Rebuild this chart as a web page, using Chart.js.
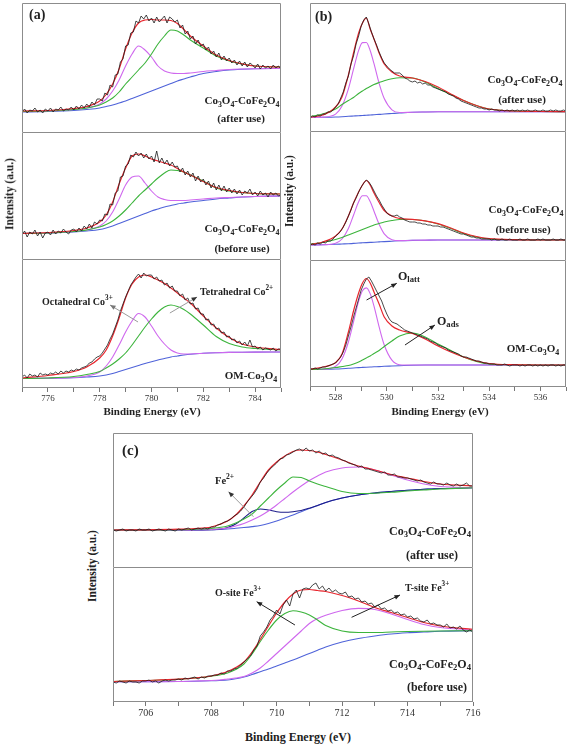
<!DOCTYPE html>
<html>
<head>
<meta charset="utf-8">
<script src="https://cdn.jsdelivr.net/npm/chart.js@4.4.1/dist/chart.umd.min.js"></script>
<style>
body { margin: 0; width: 567px; height: 744px; overflow: hidden; background: #fff; position: relative;
       font-family: "Liberation Serif", "Times New Roman", serif; }
canvas { position: absolute; }
.t { position: absolute; white-space: nowrap; font-weight: bold; color: #222; line-height: 1; }
.t sub { font-size: 72%; vertical-align: -0.3em; }
.t sup { font-size: 72%; vertical-align: 0.6em; }
</style>
</head>
<body>
<script>
// ---- energies (eV) of the fitted curves ----
const Ea = [775,776,777,777.5,778,778.25,778.5,778.75,779,779.25,779.5,779.75,780,780.25,780.5,780.75,781,781.25,781.5,782,782.5,783,783.5,784,785];
const Eb = [527,527.5,528,528.25,528.5,528.7,528.9,529.05,529.2,529.35,529.5,529.7,529.9,530.2,530.5,531,531.5,532,532.5,533,533.5,534,535,536,537];
const Ec = [705,706,707,707.5,708,708.25,708.5,708.75,709,709.25,709.5,709.75,710,710.25,710.5,710.75,711,711.25,711.5,712,712.5,713,713.5,714,714.5,715,716];

// ---- (a) Co 2p3/2 ----
const aTopBlue    = [20,20.5,21.5,22.5,24,25.5,27,29,31,33.5,36,38.5,41,43.5,46,48.5,51,53,55,58.5,60.5,62,62.8,63.3,63.5];
const aTopMagenta = [20.5,21,22.5,24,28,33,41,52,66,78,86,82,75,66,61,59,58.5,58.5,59,60.5,61.5,62.5,63,63.3,63.5];
const aTopGreen   = [20.5,21,22.5,24,27,30,34,40,48,55,62,69,78,88,96,102,101,97,92,84,76,71,68,66,65];
const aTopFit     = [21,21.5,23.5,25.5,31,37.5,48,63,83,99,109,112,112.5,112,112,111.5,108.5,102.5,96,86,77,71.5,68.2,66,65];
const aTopRaw = [20,23,19,22,21,24,20,22,19,23, 21,24,20,23,22,25,21,23,22,25, 22,26,23,27,24,28,25,30,27,33,
  33,31,39,37,47,45,57,58,70,73, 86,87,99,100,111,109,116,113,117,111, 114,109,115,110,113,116,109,115,113,110,
  112,104,107,98,101,93,96,88,92,86, 88,82,85,78,81,75,79,72,76,71, 74,69,72,67,71,66,70,65,69,67,
  64,68,63,67,64,66,63,67,64,66, 63];

const aMidBlue    = [25.5,26,27,28,29.5,31,33,35.5,38,40.5,43,45.5,48,50,52,53.5,55,56,57,58.5,60,61,62,62.5,63];
const aMidMagenta = [25.5,26,27.5,29,33,38,47,60,74,82,83,76,68,62,59.5,58.5,58.5,58.5,59,60,61,61.5,62,62.5,63];
const aMidGreen   = [25.5,26,27.5,29,32,34.5,38,43,49,56,63,69,75,81,86,89,88.5,87,84,78,71,68,66.5,65.5,65];
const aMidFit     = [25.5,26.5,28.5,31,37,44,57,75,91,103,105,103,100,98,96,94,90.5,87,84,77.5,71.5,68.5,66.5,65.5,65];
const aMidRaw = [24,28,22,27,25,29,23,27,21,26, 27,24,29,25,28,26,30,27,25,29, 30,27,31,28,33,30,35,31,37,35,
  39,38,45,44,55,54,66,68,82,83, 93,95,104,102,107,103,106,101,105,100, 103,97,108,96,101,95,99,93,97,92,
  93,87,91,84,88,82,86,78,83,77, 80,74,78,71,76,69,74,68,73,67, 71,66,70,65,69,64,68,66,70,64,
  67,63,68,64,66,62,67,64,66,63, 64];

const aBotBlue    = [9.5,9.8,10.3,11,12,13,14.5,16.5,18.5,20.5,22.5,24.5,26.3,28,29.5,31,32,33,33.8,34.8,35.3,35.6,35.8,35.9,36];
const aBotMagenta = [9.5,9.8,10.5,12,16,22,31,43,56,67,74.5,71,62,52,44,38,35,34,34,34.8,35.3,35.6,35.8,35.9,36];
const aBotGreen   = [9.5,10,11.5,13.5,16.5,20,24,29,35,43,52,61,69,76,81,83,81.5,78.5,74,63,51.5,44.5,41,39.5,38];
const aBotFit     = [10,12.5,16.5,21,30,38,52,70,90,104,111,113,111,108,104.5,100,95,90,85,72,60,50.5,44,41,38.5];
const aBotRaw = [11,13,10,14,12,13,11,15,13,14, 13,15,14,16,14,17,15,17,16,18, 17,19,18,20,21,22,25,26,29,31,
  32,35,39,43,49,54,61,68,77,84, 91,97,103,107,111,114,110,115,112,113, 113,109,111,107,108,103,105,100,102,97,
  97,92,94,88,90,84,85,79,80,74, 74,68,69,63,64,59,60,55,56,51, 52,48,49,45,47,43,46,42,48,41,
  42,39,41,38,40,39,38,40,37,39, 39];

// ---- (b) O 1s ----
const bTopBlue    = [13.5,13.7,14,14.3,14.7,15,15.3,15.5,15.8,16,16.3,16.6,17,17.5,18,18.7,19,19.2,19.3,19.3,19.3,19.3,19.3,19.3,19.3];
const bTopMagenta = [13.5,13.9,16.9,25,42.2,61.9,80.6,88.4,88.5,80.5,67.3,47.6,32.4,21.2,18.5,18.8,19,19.2,19.3,19.3,19.3,19.3,19.3,19.3,19.3];
const bTopGreen   = [14.5,17,22,26.5,30.5,33.5,37.5,40,42.5,44.5,46.5,48.5,50.3,52.3,53.3,53,49,42.5,36.5,30.5,25.5,22,20,19.5,19.3];
const bTopFit     = [13.7,16,24,34,56,78,98,108,113,102,92,78,67,59,55,53,49.5,44,37,30.5,25.5,22,20,19.5,19.4];
const bTopRaw = [13,15,14,16,15,17,17,19,19,21, 24,27,33,39,48,55,67,75,87,95, 105,111,114,107,99,92,86,79,73,68,
  65,62,60,58,58,58,56,53,52,50, 49,50,48,49,47,48,46,46,44,43, 42,41,40,39,37,36,35,33,32,30,
  29,28,27,26,25,24,23,23,22,22, 21,22,21,21,20,21,20,21,20,21, 20,21,20,21,20,21,20,20,21,20,
  20,21,20,20,21,20,21,20,20,21, 20];

const bMidBlue    = [15,15.3,15.7,16,16.3,16.6,17,17.2,17.4,17.6,17.8,18.1,18.4,18.8,19.2,19.6,19.8,20,20,20,20,20,20,20,20];
const bMidMagenta = [15,15.3,16.8,21,31.5,44.8,58.3,64.2,64.2,58.4,48.8,35.7,26.2,20.3,19.4,19.7,19.9,20,20,20,20,20,20,20,20];
const bMidGreen   = [16,17.5,20.5,22.5,25,27,29,30.5,32,33.5,35,36.5,38,39.5,40.5,40.5,39,36,31.5,26.5,23,21,20.2,20,20];
const bMidFit     = [15.5,18,24,31,44,57,68,75,79.5,75,67,57.5,49.5,44,41.5,40.7,39.2,36.3,32,27,23.5,21.5,20.3,20,20];
const bMidRaw = [15,16,15,17,16,18,17,19,19,21, 24,26,29,33,38,44,50,57,62,68, 73,77,80,78,74,69,64,60,55,51,
  47,45,44,44,45,43,42,40,39,38, 38,38,37,37,36,36,35,35,34,34, 34,33,33,32,31,30,29,28,27,26,
  26,25,24,23,23,22,22,21,21,21, 21,20,21,20,20,21,20,20,21,20, 20,20,21,20,20,21,20,20,20,21,
  20,21,20,20,20,21,20,20,21,20, 20];

const bBotBlue    = [17.5,17.7,18,18.3,18.7,19,19.4,19.6,19.8,20,20.2,20.4,20.7,21,21.3,21.8,22,22,22,22,22,22,22,22,22];
const bBotMagenta = [17.5,17.7,20.7,28.1,45,65.1,85.8,96.3,99.1,93.4,80.9,60.1,42,26.8,22.3,22,22,22,22,22,22,22,22,22,22];
const bBotGreen   = [17.5,18,19.5,20.5,21.5,23,25,27,29,31,33.5,36.5,40.5,46,51,54,50,43,36.5,30,25.5,23,22.2,22,22];
const bBotFit     = [17.8,20,24.5,33,55,76,94,104,108.5,104,95,83,70,61,57,53.5,48,41,35,30,26,23.5,22.3,22,22];
const bBotRaw = [18,18,19,18,19,20,20,21,22,23, 24,27,30,35,42,51,60,70,79,88, 97,103,108,110,106,101,96,91,86,79,
  73,68,65,64,63,61,59,57,56,55, 54,53,52,51,50,49,48,46,45,44, 42,41,40,39,37,36,35,34,33,31,
  30,30,29,28,27,26,26,25,24,24, 23,23,23,22,22,22,23,22,21,22, 22,22,21,22,21,22,22,21,22,21,
  22,21,22,21,22,22,21,22,21,22, 22];

// ---- (c) Fe 2p3/2 ----
const cTopBlue    = [37,37,37,37.1,37.3,37.6,38,38.7,39.5,40.4,41.5,43.5,46,49,52,55.3,58.5,61.5,64.5,69,72,74,75.5,76.8,77.7,78.5,79.3];
const cTopFe2     = [37,37,37,37.1,37.3,37.8,39.5,43,49,55.5,58,57,55.3,54.7,55.3,56.5,58.8,61.6,64.6,69,72,74,75.5,76.8,77.7,78.5,79.3];
const cTopGreen   = [37,37,37.3,37.8,38.5,39.5,41,44,48,53,61,69,77,84,90,89.5,86,83,80.5,75.5,73.5,73.8,74.7,76,77,78,79.3];
const cTopMagenta = [37,37,37,37.2,37.5,38,39,41,43.5,47,51,56,62,68.5,75,81,86.5,91,95,99,100,97,92,87,83,80.5,79.3];
const cTopFit     = [37,37.2,37.8,38.5,40,42.5,46,52,61,72,85,97,105,111,115.5,117,116.5,115,112.5,107,101,97,92.5,89,85.5,83,81];
const cTopRaw = [37,36,37,38,36,37,37,36,38,37, 37,38,36,37,38,37,36,38,37,36, 38,37,38,39,37,38,39,38,39,38,
  40,40,42,43,45,46,48,51,53,56, 60,65,69,73,78,85,89,94,98,101, 104,108,109,112,113,115,117,118,116,119,
  116,117,114,116,113,114,111,112,110,109, 107,106,104,103,102,100,101,98,98,97, 96,95,94,95,92,92,93,90,90,89,
  89,88,87,86,87,85,84,83,85,83, 83,82,84,82,81,83,81,82,84,81, 81];

const cBotBlue    = [20.3,20.3,20.5,20.8,21.2,21.5,22,23.2,25,27.5,30.3,33,36,39,42,45.2,48.5,51.8,55,60,63.5,66,68,69.2,70,70.7,71.3];
const cBotGreen   = [20.5,21.5,22.7,24,25.8,27,29,32.5,38,48,60.5,72,82,88.5,91.3,90,87,82,76.5,71,69.5,69.5,70,70.5,70.8,71,71.3];
const cBotMagenta = [20.3,20.3,20.5,21,21.5,22,23,24,25.5,29,34,41,48.5,56,63.5,71,78.5,83.5,86.8,91.5,93.6,92.5,88,82.5,77.5,74.5,72];
const cBotFit     = [20.5,21.5,22.8,24,26,28,30.5,34.5,40,50,62.5,76,89,100,108,112,112.5,111.5,110.5,106.5,101,94.5,89.5,84.5,79.5,76,72.7];
const cBotRaw = [20,19,21,20,19,21,20,20,19,21, 21,22,20,21,19,21,22,21,22,22, 23,22,24,23,24,25,23,25,24,26,
  26,27,27,29,28,31,31,33,34,37, 40,43,46,52,56,66,70,75,82,86, 92,88,97,102,96,108,112,104,113,114,
  113,117,119,113,116,111,114,110,112,109, 108,110,105,106,103,104,100,101,98,99, 95,97,93,94,91,92,89,90,87,88,
  85,86,83,84,81,80,82,78,79,77, 77,75,78,74,75,73,76,72,70,72, 70];

// ---- drawing ----
const C = { raw: "#1a1a1a", fit: "#e8262e", green: "#3cb43c", magenta: "#cf68ee", blue: "#4f63d9", navy: "#1c1c8a" };
const PAD = 12;

function pts(E, vals) { return vals.map((v, i) => ({ x: E[i], y: v })); }
function rawPts(start, vals) { return vals.map((v, i) => ({ x: +(start + i * 0.1).toFixed(1), y: v })); }
function curve(data, color, w) {
    return { data: data, borderColor: color, borderWidth: w, pointRadius: 0, fill: false, cubicInterpolationMode: "monotone" };
}

const framePlugin = {
    id: "frame",
    afterDraw(chart, args, opts) {
        const a = chart.chartArea, ctx = chart.ctx;
        ctx.save();
        ctx.strokeStyle = "#8c8c8c";
        ctx.lineWidth = 1;
        ctx.beginPath();
        ctx.moveTo(a.left + 0.5, a.bottom);
        ctx.lineTo(a.left + 0.5, a.top + 0.5);
        ctx.lineTo(a.right - 0.5, a.top + 0.5);
        ctx.lineTo(a.right - 0.5, a.bottom);
        if (opts.bottom) { ctx.moveTo(a.left, a.bottom - 0.5); ctx.lineTo(a.right, a.bottom - 0.5); }
        ctx.stroke();
        // arrows, given in data units
        (opts.arrows || []).forEach(ar => {
            const x0 = chart.scales.x.getPixelForValue(ar.from[0]), y0 = chart.scales.y.getPixelForValue(ar.from[1]);
            const x1 = chart.scales.x.getPixelForValue(ar.to[0]), y1 = chart.scales.y.getPixelForValue(ar.to[1]);
            ctx.strokeStyle = ar.color; ctx.fillStyle = ar.head;
            ctx.beginPath(); ctx.moveTo(x0, y0); ctx.lineTo(x1, y1); ctx.stroke();
            const ang = Math.atan2(y1 - y0, x1 - x0), L = 6;
            ctx.beginPath();
            ctx.moveTo(x1, y1);
            ctx.lineTo(x1 - L * Math.cos(ang - 0.4), y1 - L * Math.sin(ang - 0.4));
            ctx.lineTo(x1 - L * Math.cos(ang + 0.4), y1 - L * Math.sin(ang + 0.4));
            ctx.closePath(); ctx.fill();
        });
        ctx.restore();
    }
};

function panel(frame, xr, sets, opts) {
    const [x0, x1, y0, y1] = frame;
    const axisH = opts.axis ? 16 : 0;
    const cv = document.createElement("canvas");
    cv.width = x1 - x0 + 2 * PAD;
    cv.height = y1 - y0 + axisH;
    cv.style.left = (x0 - PAD) + "px";
    cv.style.top = y0 + "px";
    document.body.appendChild(cv);
    new Chart(cv.getContext("2d"), {
        type: "line",
        data: { datasets: sets },
        options: {
            responsive: false,
            animation: false,
            events: [],
            layout: { padding: { left: PAD, right: PAD, top: 0, bottom: 0 } },
            plugins: { legend: { display: false }, tooltip: { enabled: false },
                       frame: { bottom: !!opts.axis, arrows: opts.arrows || [] } },
            scales: {
                x: {
                    type: "linear", min: xr[0], max: xr[1], display: !!opts.axis,
                    afterFit: s => { s.height = axisH; },
                    border: { display: false },
                    grid: { drawOnChartArea: false, drawTicks: true, tickLength: 4, color: "#777" },
                    ticks: { stepSize: 1, autoSkip: false, maxRotation: 0, padding: 1, color: "#333",
                             font: { family: "Liberation Serif", size: opts.tickSize || 9 },
                             callback: v => (v % 2 === 0 ? v : "") }
                },
                y: { display: false, min: 0, max: y1 - y0 }
            }
        },
        plugins: [framePlugin]
    });
}

function fitSets(E, start, raw, fit, green, magenta, blue, extra) {
    const rawSet = curve(rawPts(start, raw), C.raw, 0.8);
    rawSet.cubicInterpolationMode = "default";
    const s = [rawSet, curve(pts(E, fit), C.fit, 1.2),
               curve(pts(E, green), C.green, 1.1), curve(pts(E, magenta), C.magenta, 1.1)];
    if (extra) s.push(curve(pts(E, extra), C.navy, 1.1));
    s.push(curve(pts(E, blue), C.blue, 1.1));
    return s;
}

panel([22, 281, 3, 132], [775, 785], fitSets(Ea, 775, aTopRaw, aTopFit, aTopGreen, aTopMagenta, aTopBlue), {});
panel([22, 281, 132, 259], [775, 785], fitSets(Ea, 775, aMidRaw, aMidFit, aMidGreen, aMidMagenta, aMidBlue), {});
panel([22, 281, 259, 388], [775, 785], fitSets(Ea, 775, aBotRaw, aBotFit, aBotGreen, aBotMagenta, aBotBlue), {
    axis: true,
    arrows: [{ from: [779.48, 66], to: [778.4, 83], color: "#9a9a9a", head: "#777" },
             { from: [780.71, 75], to: [781.76, 91], color: "#9a9a9a", head: "#333" }]
});

panel([310, 566, 3, 131], [527, 537], fitSets(Eb, 527, bTopRaw, bTopFit, bTopGreen, bTopMagenta, bTopBlue), {});
panel([310, 566, 131, 260], [527, 537], fitSets(Eb, 527, bMidRaw, bMidFit, bMidGreen, bMidMagenta, bMidBlue), {});
panel([310, 566, 260, 387], [527, 537], fitSets(Eb, 527, bBotRaw, bBotFit, bBotGreen, bBotMagenta, bBotBlue), {
    axis: true,
    arrows: [{ from: [529.21, 87], to: [530.39, 103.7], color: "#222", head: "#222" },
             { from: [530.71, 42], to: [531.88, 62], color: "#222", head: "#222" }]
});

panel([113, 473, 433, 567], [705, 716], fitSets(Ec, 705, cTopRaw, cTopFit, cTopGreen, cTopMagenta, cTopBlue, cTopFe2), {
    arrows: [{ from: [709.29, 50.3], to: [708.53, 75.3], color: "#9a9a9a", head: "#333" }]
});
panel([113, 473, 567, 702], [705, 716], fitSets(Ec, 705, cBotRaw, cBotFit, cBotGreen, cBotMagenta, cBotBlue), {
    axis: true, tickSize: 10,
    arrows: [{ from: [710.56, 77], to: [709.39, 100.3], color: "#222", head: "#222" },
             { from: [712.29, 84.7], to: [713.77, 107], color: "#222", head: "#222" }]
});

// ---- texts ----
function txt(html, x, y, size, anchor, rot) {
    const d = document.createElement("div");
    d.className = "t";
    d.innerHTML = html;
    d.style.left = x + "px";
    d.style.top = y + "px";
    d.style.fontSize = size + "px";
    const tx = anchor === "l" ? "0" : anchor === "r" ? "-100%" : "-50%";
    d.style.transform = "translate(" + tx + ",-50%)" + (rot ? " rotate(-90deg)" : "");
    document.body.appendChild(d);
}
const MIX = "Co<sub>3</sub>O<sub>4</sub>-CoFe<sub>2</sub>O<sub>4</sub>";
const OM = "OM-Co<sub>3</sub>O<sub>4</sub>";

txt("(a)", 29, 15, 14, "l");
txt("(b)", 315, 17, 14, "l");
txt("(c)", 122, 450, 15, "l");

txt(MIX, 242, 102, 11); txt("(after use)", 241, 118, 11);
txt(MIX, 242, 230, 11); txt("(before use)", 242, 248, 11);
txt(OM, 251, 377, 11);
txt("Octahedral Co<sup>3+</sup>", 42, 301, 10, "l");
txt("Tetrahedral Co<sup>2+</sup>", 200, 291, 10, "l");

txt(MIX, 525, 81, 11); txt("(after use)", 522, 99, 11);
txt(MIX, 526, 211, 11); txt("(before use)", 523, 229, 11);
txt(OM, 533, 350, 11);
txt("O<sub>latt</sub>", 398, 277, 12, "l");
txt("O<sub>ads</sub>", 437, 322, 12, "l");

txt(MIX, 430, 532, 12); txt("(after use)", 432, 555, 12);
txt(MIX, 430, 665, 12); txt("(before use)", 437, 687, 12);
txt("Fe<sup>2+</sup>", 215, 480, 10.5, "l");
txt("O-site Fe<sup>3+</sup>", 215, 592, 10, "l");
txt("T-site Fe<sup>3+</sup>", 405, 587, 10, "l");

txt("Binding Energy (eV)", 152, 411, 11);
txt("Binding Energy (eV)", 440, 411, 11);
txt("Binding Energy (eV)", 298, 737, 12);
txt("Intensity (a.u.)", 10, 194, 11.5, "c", true);
txt("Intensity (a.u.)", 290, 191, 11.5, "c", true);
txt("Intensity (a.u.)", 93, 566, 11.5, "c", true);
</script>
</body>
</html>
